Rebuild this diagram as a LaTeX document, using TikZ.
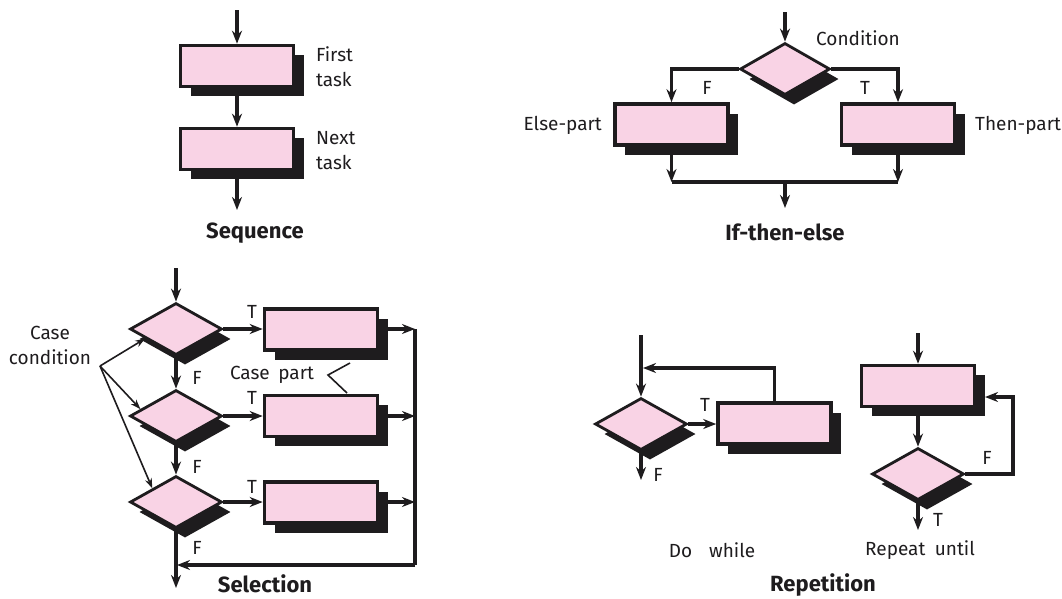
\documentclass[tikz,border=0pt]{standalone}
\usepackage{fontspec}
\setmainfont{Fira Sans}
\usetikzlibrary{arrows.meta,shapes.geometric,shadows,calc}
\definecolor{pinkfill}{RGB}{249,211,229}
\definecolor{ink}{RGB}{30,28,30}
\begin{document}
\begin{tikzpicture}[x=1pt,y=-1pt,
  taskbox/.style={rectangle, draw=ink, line width=3.6pt, fill=pinkfill,
    minimum width=113pt, minimum height=41pt, inner sep=0pt,
    drop shadow={shadow xshift=10pt, shadow yshift=-9.5pt, fill=ink, opacity=1}},
  decision/.style={diamond, draw=ink, line width=2.8pt, fill=pinkfill,
    minimum width=92pt, minimum height=52pt, inner sep=0pt,
    drop shadow={shadow xshift=9pt, shadow yshift=-10pt, fill=ink, opacity=1}},
  flow/.style={draw=ink, line width=3.3pt, -{Stealth[length=13pt,width=10pt]}},
  plain/.style={draw=ink, line width=3.3pt},
  thinarrow/.style={draw=ink, line width=1.6pt, -{Stealth[length=10pt,width=7pt]}},
  thinline/.style={draw=ink, line width=1.6pt},
  lab/.style={font=\fontsize{19}{25}\selectfont, text=ink, inner sep=0pt},
  ttl/.style={font=\fontsize{22}{24}\selectfont\bfseries, text=ink, inner sep=0pt},
]
\path[use as bounding box] (0,0) rectangle (1062,598);

% ---------------- Sequence ----------------
\node[taskbox] (s1) at (237,66) {};
\node[taskbox] (s2) at (237,149) {};
\coordinate (sIn) at (237,10);
\coordinate (sOut) at (237,210);
\draw[flow] (sIn) -- (s1);
\draw[flow] (s1) -- (s2);
\draw[flow] (s2) -- (sOut);
\node[lab, align=left, anchor=west] (lFirst) at (316,67) {First\\task};
\node[lab, align=left, anchor=west] (lNext) at (316,151) {Next\\task};
\node[ttl] (tSeq) at (255,233) {Sequence};

% ---------------- If-then-else ----------------
\node[decision, minimum width=90pt] (i0) at (785,69) {};
\node[taskbox] (ie) at (671.5,124.5) {};
\node[taskbox] (it) at (898,124.5) {};
\coordinate (iIn) at (785,12);
\coordinate (iJl) at (671.5,182);
\coordinate (iJr) at (898,182);
\coordinate (iJm) at (785,182);
\coordinate (iOut) at (785,208);
\draw[flow] (iIn) -- (i0);
\draw[flow] (i0.west) -| (ie.north);
\draw[flow] (i0.east) -| (it.north);
\draw[flow] (ie.south) -- (iJl);
\draw[flow] (it.south) -- (iJr);
\draw[plain] (iJl) -- (iJr);
\draw[flow] (iJm) -- (iOut);
\node[lab] (iF) at (707,88) {F};
\node[lab] (iT) at (865,88) {T};
\node[lab, anchor=west] (iCond) at (816,38) {Condition};
\node[lab, anchor=east] (iElse) at (602,125) {Else-part};
\node[lab, anchor=west] (iThen) at (975,125) {Then-part};
\node[ttl] (tIte) at (785,232) {If-then-else};

% ---------------- Selection ----------------
\node[decision] (d1) at (176,329) {};
\node[decision] (d2) at (176,416) {};
\node[decision] (d3) at (176,502) {};
\node[taskbox] (b1) at (321,329.5) {};
\node[taskbox] (b2) at (321,416) {};
\node[taskbox] (b3) at (321,502.5) {};
\coordinate (selIn) at (176,268);
\coordinate (r1) at (415,329);
\coordinate (r2) at (415,416);
\coordinate (r3) at (415,502);
\coordinate (rb) at (415,565);
\coordinate (sm) at (177,565);
\coordinate (selOut) at (176,588);
\draw[flow] (selIn) -- (d1);
\draw[flow] (d1) -- (d2);
\draw[flow] (d2) -- (d3);
\draw[flow] (d1.east) -- (d1.east -| b1.west);
\draw[flow] (d2.east) -- (d2.east -| b2.west);
\draw[flow] (d3.east) -- (d3.east -| b3.west);
\draw[flow] (b1.east |- r1) -- (r1);
\draw[flow] (b2.east |- r2) -- (r2);
\draw[flow] (b3.east |- r3) -- (r3);
\draw[plain] (r1) -- (rb);
\draw[flow] (rb) -- (sm);
\draw[flow] (d3) -- (selOut);
\node[lab] (sT1) at (252,312) {T};
\node[lab] (sT2) at (252,398) {T};
\node[lab] (sT3) at (252,487) {T};
\node[lab] (sF1) at (197,378) {F};
\node[lab] (sF2) at (197,467) {F};
\node[lab] (sF3) at (197,548) {F};
\node[lab, align=center] (cc) at (50,345) {Case\\condition};
\coordinate (ccO) at (100,366);
\draw[thinarrow] (ccO) -- ($(d1.west)!0.35!(d1.south)$);
\draw[thinarrow] (ccO) -- ($(d2.west)!0.25!(d2.north)$);
\draw[thinarrow] (ccO) -- ($(d3.west)!0.5!(d3.north)$);
\node[lab] (cp) at (272,375) {Case\hspace{0.45em}part};
\coordinate (cpA) at (350,363);
\coordinate (cpB) at (328,375);
\coordinate (cpC) at (347,393);
\draw[thinline] (cpA) -- (cpB) -- (cpC);
\node[ttl] (tSel) at (265,584) {Selection};

% ---------------- Repetition: do while ----------------
\node[decision] (w0) at (641,424) {};
\node[taskbox] (w1) at (774.5,423.5) {};
\coordinate (wIn) at (641,335);
\coordinate (wJoin) at (643,368);
\coordinate (wOut) at (641,480);
\draw[flow] (wIn) -- (w0);
\draw[flow] (w0.east) -- (w0.east -| w1.west);
\draw[flow] (w1.north) |- (wJoin);
\draw[flow] (w0) -- (wOut);
\node[lab] (wT) at (705,405) {T};
\node[lab] (wF) at (658,475) {F};
\node[lab] (wLab) at (712,550) {Do\hspace{0.9em}while};

% ---------------- Repetition: repeat until ----------------
\node[taskbox] (u1) at (918,386) {};
\node[decision] (u0) at (918,474) {};
\coordinate (uIn) at (918,333);
\coordinate (uOut) at (918,530);
\coordinate (uR) at (1013,397);
\coordinate (uTip) at (985,397);
\draw[flow] (uIn) -- (u1);
\draw[flow] (u1) -- (u0);
\draw[flow] (u0) -- (uOut);
\draw[flow] (u0.east) -| (uR) -- (uTip);
\node[lab] (uF) at (987,458) {F};
\node[lab] (uT) at (938,520) {T};
\node[lab] (uLab) at (920,550) {Repeat\hspace{0.5em}until};
\node[ttl] (tRep) at (823,585) {Repetition};
\end{tikzpicture}
\end{document}
